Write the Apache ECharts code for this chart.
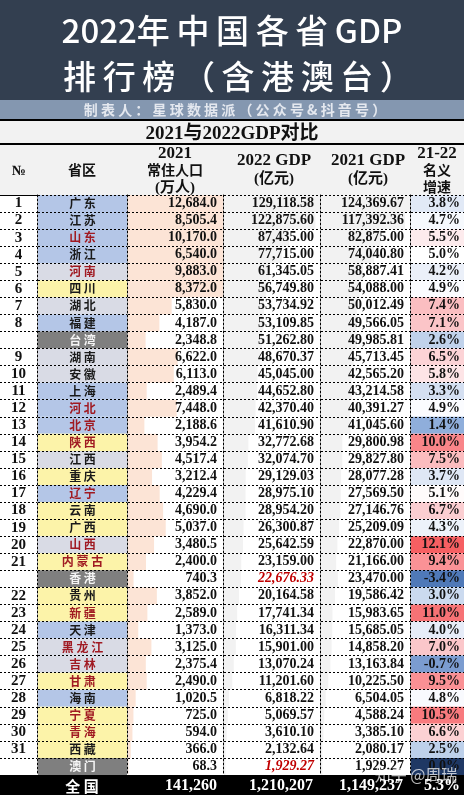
<!DOCTYPE html>
<html><head><meta charset="utf-8">
<style>html,body{margin:0;padding:0;background:#fff}#c{width:464px;height:795px}</style>
<script src="https://cdn.jsdelivr.net/npm/echarts@6/dist/echarts.min.js"></script>
</head><body><div id="c"></div>
<script>
const ranks = ['1','2','3','4','5','6','7','8','','9','10','11','12','13','14','15','16','17','18','19','20','21','','22','23','24','25','26','27','28','29','30','31',''];
const provinces = ['广东','江苏','山东','浙江','河南','四川','湖北','福建','台湾','湖南','安徽','上海','河北','北京','陕西','江西','重庆','辽宁','云南','广西','山西','内蒙古','香港','贵州','新疆','天津','黑龙江','吉林','甘肃','海南','宁夏','青海','西藏','澳门'];
const regions = ['e','e','e','e','c','w','c','e','s','c','c','e','e','e','w','c','w','e','w','w','c','w','s','w','w','e','c','c','w','e','w','w','w','s'];
const northern = ['山东','河南','河北','北京','陕西','辽宁','山西','内蒙古','新疆','黑龙江','吉林','甘肃','宁夏','青海'];
const population = [12684.0,8505.4,10170.0,6540.0,9883.0,8372.0,5830.0,4187.0,2348.8,6622.0,6113.0,2489.4,7448.0,2188.6,3954.2,4517.4,3212.4,4229.4,4690.0,5037.0,3480.5,2400.0,740.3,3852.0,2589.0,1373.0,3125.0,2375.4,2490.0,1020.5,725.0,594.0,366.0,68.3];
// data-bar extent as it appears in the picture (the first six rows fill their cell)
const populationBar = [12684,12684,12684,12684,12684,12684,5830.0,4187.0,2348.8,6622.0,6113.0,2489.4,6500,2188.6,3954.2,4517.4,3212.4,4229.4,4690.0,5037.0,3480.5,2400.0,740.3,3852.0,2589.0,1373.0,3125.0,2375.4,2490.0,1020.5,725.0,594.0,366.0,68.3];
const gdp2022 = [129118.58,122875.60,87435.00,77715.00,61345.05,56749.80,53734.92,53109.85,51262.80,48670.37,45045.00,44652.80,42370.40,41610.90,32772.68,32074.70,29129.03,28975.10,28954.20,26300.87,25642.59,23159.00,22676.33,20164.58,17741.34,16311.34,15901.00,13070.24,11201.60,6818.22,5069.57,3610.10,2132.64,1929.27];
const gdp2021 = [124369.67,117392.36,82875.00,74040.80,58887.41,54088.00,50012.49,49566.05,49985.81,45713.45,42565.20,43214.58,40391.27,41045.60,29800.98,29827.80,28077.28,27569.50,27146.76,25209.09,22870.00,21166.00,23470.00,19586.42,15983.65,15685.05,14858.20,13163.84,10225.50,6504.05,4588.24,3385.10,2080.17,1929.27];
const growth = [3.8,4.7,5.5,5.0,4.2,4.9,7.4,7.1,2.6,6.5,5.8,3.3,4.9,1.4,10.0,7.5,3.7,5.1,6.7,4.3,12.1,9.4,-3.4,3.0,11.0,4.0,7.0,-0.7,9.5,4.8,10.5,6.6,2.5,0.0];
const italicRed2022 = ['香港','澳门'];
const totals = {name:'全国', population:'141,260', gdp2022:'1,210,207', gdp2021:'1,149,237', growth:'5.3%'};

const TS = '\u2009';
const spaced = (s, sep) => Array.from(s).join(sep);
const SERIF = '"Liberation Serif","Noto Sans CJK SC",serif';
const CJK = '"Noto Sans CJK SC",sans-serif';
const regionColor = {e:'#B4C6E7', c:'#D9DBE5', w:'#FCF3A9', s:'#7F7F7F'};
const stops = [[-3.4,'#4F79B8'],[-0.7,'#7B9CD0'],[1.4,'#8FAEDB'],[2.5,'#BDD0EA'],[3.7,'#DFE7F5'],[4.9,'#FBFCFF'],[5.0,'#FFFFFF'],[5.5,'#FDEBED'],[7.0,'#FBC7CA'],[9.4,'#FA9296'],[10.5,'#F87A7E'],[12.1,'#F65F62']];
function growthColor(v){
  if (v === 0) return '#1F3864';
  for (let i=1;i<stops.length;i++){
    if (v<=stops[i][0]){
      const [a,ca]=stops[i-1],[b,cb]=stops[i],t=(v-a)/(b-a);
      return echarts.color.lerp(t,[ca,cb]);
    }
  }
  return stops[stops.length-1][1];
}
const fmt = (v,d)=>v.toLocaleString('en-US',{minimumFractionDigits:d,maximumFractionDigits:d});

const TOP=195, HEIGHT=580;
const columns=[[0,37],[38,127],[128,223],[224,320],[321,410],[411,464]];
const dotted={color:'#000',width:1,type:[2,2]};
const grid=columns.map(([l,r])=>({left:l,width:r-l,top:TOP,height:HEIGHT}));
const maxes=[1,1,12684,129118.58,124369.67,1];
const xAxis=maxes.map((m,i)=>({type:'value',gridIndex:i,min:0,max:m,show:false}));
const valueLabel={fontFamily:SERIF,fontWeight:'bold',fontSize:14,color:'#111',inside:true,margin:6,interval:0};
const labelSets=[null,null,(v,i)=>fmt(population[i],1),(v,i)=>{const s=fmt(gdp2022[i],2);return italicRed2022.includes(v)?'{r|'+s+'}':s;},(v,i)=>fmt(gdp2021[i],2),null];
const yAxis=columns.map((c,i)=>({
  type:'category',gridIndex:i,inverse:true,data:provinces,position:'right',z:5,
  axisLine:{show:i<5,onZero:false,lineStyle:dotted},axisTick:{show:false},
  splitLine:{show:true,interval:0,lineStyle:dotted},
  axisLabel:labelSets[i]?Object.assign({},valueLabel,{formatter:labelSets[i],rich:{r:{color:'#C00000',fontStyle:'italic',fontWeight:'bold',fontFamily:SERIF,fontSize:14}}}):{show:false}
}));
const base=i=>({type:'bar',xAxisIndex:i,yAxisIndex:i,barWidth:'100%',barCategoryGap:0,silent:true,animation:false});
const full=population.map(()=>1);
const series=[
  Object.assign(base(0),{name:'№',data:full,itemStyle:{color:'rgba(0,0,0,0)'},label:{show:true,position:'inside',fontFamily:SERIF,fontWeight:'bold',fontSize:15,color:'#111',formatter:p=>ranks[p.dataIndex]||''}}),
  Object.assign(base(1),{name:'省区',data:full,itemStyle:{color:p=>regionColor[regions[p.dataIndex]]},label:{show:true,position:'inside',fontFamily:CJK,fontWeight:'bold',fontSize:12,color:'#1a1a1a',
    formatter:p=>{const n=provinces[p.dataIndex],s=spaced(n,' ');return regions[p.dataIndex]==='s'?'{s|'+s+'}':northern.includes(n)?'{n|'+s+'}':s;},
    rich:{n:{color:'#A01A22',fontFamily:CJK,fontWeight:'bold',fontSize:12},s:{color:'#F5F5F5',fontFamily:CJK,fontWeight:'bold',fontSize:12}}}}),
  Object.assign(base(2),{name:'常住人口',data:populationBar,itemStyle:{color:'#FCE4D6'}}),
  Object.assign(base(3),{name:'2022 GDP',data:gdp2022,itemStyle:{color:'#F2F2F2'}}),
  Object.assign(base(4),{name:'2021 GDP',data:gdp2021,itemStyle:{color:'#F2F2F2'}}),
  Object.assign(base(5),{name:'名义增速',data:full,itemStyle:{color:p=>growthColor(growth[p.dataIndex])},label:{show:true,position:'insideRight',distance:4,fontFamily:SERIF,fontWeight:'bold',fontSize:14,color:'#111',formatter:p=>growth[p.dataIndex].toFixed(1)+'%'}})
];
const rect=(x,y,w,h,fill)=>({type:'rect',shape:{x,y,width:w,height:h},style:{fill},z:1,silent:true});
const text=(x,y,t,font,fill,align)=>({type:'text',x,y,z:20,silent:true,style:{text:t,font,fill:fill||'#111',align:align||'center',verticalAlign:'middle'}});
const bold=(s,f)=>'bold '+s+'px '+(f||SERIF);
const graphic=[
  rect(0,0,464,100,'#333F50'),
  rect(0,100,464,19,'#8497B0'),
  rect(0,119,464,2,'#000'),
  rect(0,121,464,22,'#F2F2F2'),
  rect(0,143,464,2,'#000'),
  rect(0,145,464,50,'#F2F2F2'),
  rect(0,195,464,1,'#000'),
  rect(0,775,464,20,'#000'),
  text(232,30,'2022年'+TS+spaced('中国各省',TS)+TS+'GDP','500 33px '+CJK,'#FFFFFF'),
  text(238,76,spaced('排行榜（含港澳台）',TS),'500 33px '+CJK,'#FFFFFF'),
  text(235,110,spaced('制表人：星球数据派（公众号&抖音号）',' '),bold(14,CJK),'#E4E8EF'),
  text(232,134,'2021与2022GDP对比',bold(19)),
  text(19,171,'№',bold(14)),
  text(82,171,'省区',bold(14)),
  text(175,154,'2021',bold(17)),
  text(175,171,'常住人口',bold(14)),
  text(175,188,'(万人)',bold(15)),
  text(274,161,'2022 GDP',bold(17)),
  text(274,179,'(亿元)',bold(15)),
  text(368,161,'2021 GDP',bold(17)),
  text(368,179,'(亿元)',bold(15)),
  text(437,154,'21-22',bold(17)),
  text(437,171,'名义',bold(14)),
  text(437,188,'增速',bold(14)),
  text(82,786,spaced(totals.name,' '),bold(15,CJK),'#FFFFFF'),
  text(217,786,totals.population,bold(16),'#FFFFFF','right'),
  text(313,786,totals.gdp2022,bold(16),'#FFFFFF','right'),
  text(403,786,totals.gdp2021,bold(16),'#FFFFFF','right'),
  text(460,786,totals.growth,bold(16),'#FFFFFF','right'),
  text(416,775,'知乎 @周瑞','16px '+CJK,'rgba(255,255,255,0.72)')
];
const chart=echarts.init(document.getElementById('c'),null,{renderer:'canvas'});
chart.setOption({animation:false,backgroundColor:'#fff',grid,xAxis,yAxis,series,graphic:{elements:graphic}});
</script></body></html>
